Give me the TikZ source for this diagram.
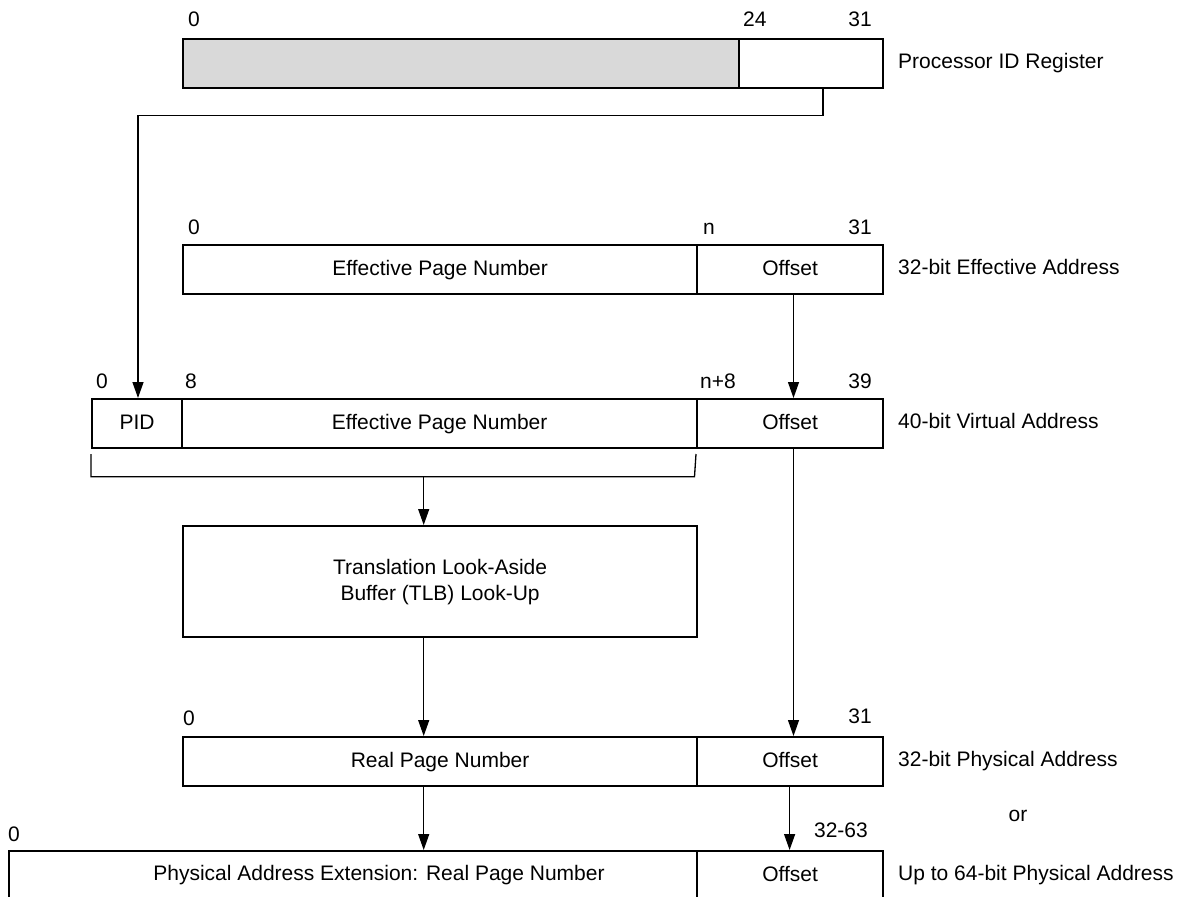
\documentclass[tikz,border=0pt]{standalone}
\usepackage{fontspec}
\setmainfont{Liberation Sans}
\usetikzlibrary{arrows.meta,calc}
\definecolor{regfill}{HTML}{D9D9D9}
\begin{document}
\begin{tikzpicture}[x=1pt,y=-1pt,
  every node/.style={font=\fontsize{21}{25}\selectfont, inner sep=0pt},
  field/.style={draw, line width=2.2pt, minimum height=49pt, text height=15pt, text depth=4pt, anchor=north west},
  conn/.style={line width=1.3pt},
  arr/.style={conn, -{Triangle[length=16pt,width=11pt]}},
  num/.style={anchor=base west},
  numr/.style={anchor=base east},
  side/.style={anchor=base west}]
\useasboundingbox (0,0) rectangle (1197,897);
\clip (0,0) rectangle (1197,897);
\fill[white] (0,0) rectangle (1197,897);

% Processor ID register
\node[field, fill=regfill, minimum width=556pt] (regA) at (182,38) {};
\node[field, minimum width=144pt] (regB) at (738,38) {};
\node[num] (r0) at (188,26) {0};
\node[num] (r24) at (743,26) {24};
\node[numr] (r31) at (872,26) {31};
\node[side] (regL) at (898,68) {Processor ID Register};

% 32-bit effective address
\node[field, minimum width=514pt] (eaA) at (182,244) {Effective Page Number};
\node[field, minimum width=186pt] (eaB) at (696,244) {Offset};
\node[num] (e0) at (188,234) {0};
\node[num] (en) at (703,234) {n};
\node[numr] (e31) at (872,234) {31};
\node[side] (eaL) at (898,274) {32-bit Effective Address};

% 40-bit virtual address
\node[field, minimum width=90pt] (vaA) at (91,398) {PID};
\node[field, minimum width=515pt] (vaB) at (181,398) {Effective Page Number};
\node[field, minimum width=186pt] (vaC) at (696,398) {Offset};
\node[num] (v0) at (96,388) {0};
\node[num] (v8) at (185,388) {8};
\node[num] (vn8) at (700,388) {n+8};
\node[numr] (v39) at (872,388) {39};
\node[side] (vaL) at (898,428) {40-bit Virtual Address};

% TLB
\node[field, minimum width=514pt, minimum height=111pt, text height=, text depth=, align=center] (tlb) at (182,525) {Translation Look-Aside\\[1pt]Buffer (TLB) Look-Up};

% 32-bit physical address
\node[field, minimum width=514pt] (paA) at (182,736) {Real Page Number};
\node[field, minimum width=186pt] (paB) at (696,736) {Offset};
\node[num] (p0) at (183,725) {0};
\node[numr] (p31) at (872,723) {31};
\node[side] (paL) at (898,766) {32-bit Physical Address};
\node[anchor=base] (orL) at (1018,821) {or};

% up to 64-bit physical address
\node[field, minimum width=688pt] (extA) at (8,850) {};
\node[anchor=base] (extT) at (379,880) {Physical Address Extension: Real Page Number};
\node[field, minimum width=186pt] (extB) at (696,850) {Offset};
\node[num] (x0) at (8,841) {0};
\node[numr] (x3263) at (868,837) {32-63};
\node[side] (extL) at (898,880) {Up to 64-bit Physical Address};

% connectors
\coordinate (c1) at (823,115.7);
\coordinate (c2) at (138,115.7);
\draw[arr] (c1 |- regB.south) -- (c1) -- (c2) -- (c2 |- vaA.north);

\coordinate (xo) at (793.5,0);
\draw[arr] (xo |- eaB.south) -- (xo |- vaC.north);

\coordinate (bL) at (91,454);
\coordinate (bR) at (696,454);
\coordinate (bRb) at (694.5,476.7);
\draw[conn] (bL) -- (bL |- bRb) -- (bRb) -- (bR);

\coordinate (xm) at (423.7,0);
\draw[arr] (xm |- bRb) -- (xm |- tlb.north);
\draw[arr] (xm |- tlb.south) -- (xm |- paA.north);
\draw[arr] (xo |- vaC.south) -- (xo |- paB.north);
\draw[arr] (xm |- paA.south) -- (xm |- extA.north);
\coordinate (xp) at (789.6,0);
\draw[arr] (xp |- paB.south) -- (xp |- extB.north);
\end{tikzpicture}
\end{document}
